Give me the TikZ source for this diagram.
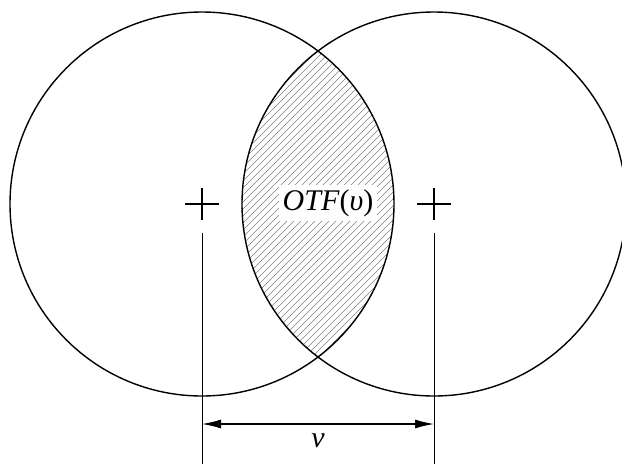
\documentclass[tikz,border=0pt]{standalone}
\usepackage{fontspec}
\setmainfont{Liberation Serif}
\usetikzlibrary{arrows.meta,calc}
\begin{document}
\begin{tikzpicture}[x=1pt,y=-1pt,
  circ/.style={line width=1.4pt},
  thin line/.style={line width=0.7pt},
  hatch/.style={line width=0.5pt, black!50},
  dimarrow/.style={line width=1.2pt,{Latex[length=19pt,width=9pt]}-{Latex[length=19pt,width=9pt]}},
  crossarm/.style={line width=1.2pt},
  bigtext/.style={font=\fontsize{30}{34}\selectfont}]
\useasboundingbox (0,0) rectangle (622,464);
\coordinate (cl) at (202,204);
\coordinate (cr) at (434,204);
% hatching in lens
\begin{scope}
  \clip (cl) circle[radius=192];
  \clip (cr) circle[radius=192];
  \foreach \i in {-40,...,40} {
    \draw[hatch] ({318+7*\i-200},404) -- ({318+7*\i+200},4);
  }
\end{scope}
% circles
\draw[circ] (cl) circle[radius=192];
\draw[circ] (cr) circle[radius=192];
% label
\node[fill=white, inner sep=4pt, bigtext] (lab) at (328,203) {\textit{OTF}(\textit{υ})};
% crosses
\draw[crossarm] ($(cl)+(-17,0)$) -- ($(cl)+(17,0)$);
\draw[crossarm] ($(cl)+(0,-16)$) -- ($(cl)+(0,16)$);
\draw[crossarm] ($(cr)+(-17,0)$) -- ($(cr)+(17,0)$);
\draw[crossarm] ($(cr)+(0,-16)$) -- ($(cr)+(0,16)$);
% extension lines
\coordinate (el1) at (202,233);
\coordinate (el2) at (202,464);
\coordinate (er1) at (434,233);
\coordinate (er2) at (434,464);
\draw[thin line] (el1) -- (el2);
\draw[thin line] (er1) -- (er2);
% dimension arrow
\coordinate (al) at (202,424);
\coordinate (ar) at (434,424);
\draw[dimarrow] (al) -- (ar);
\node[bigtext] (nu) at (318,441) {\textit{ν}};
\end{tikzpicture}
\end{document}
